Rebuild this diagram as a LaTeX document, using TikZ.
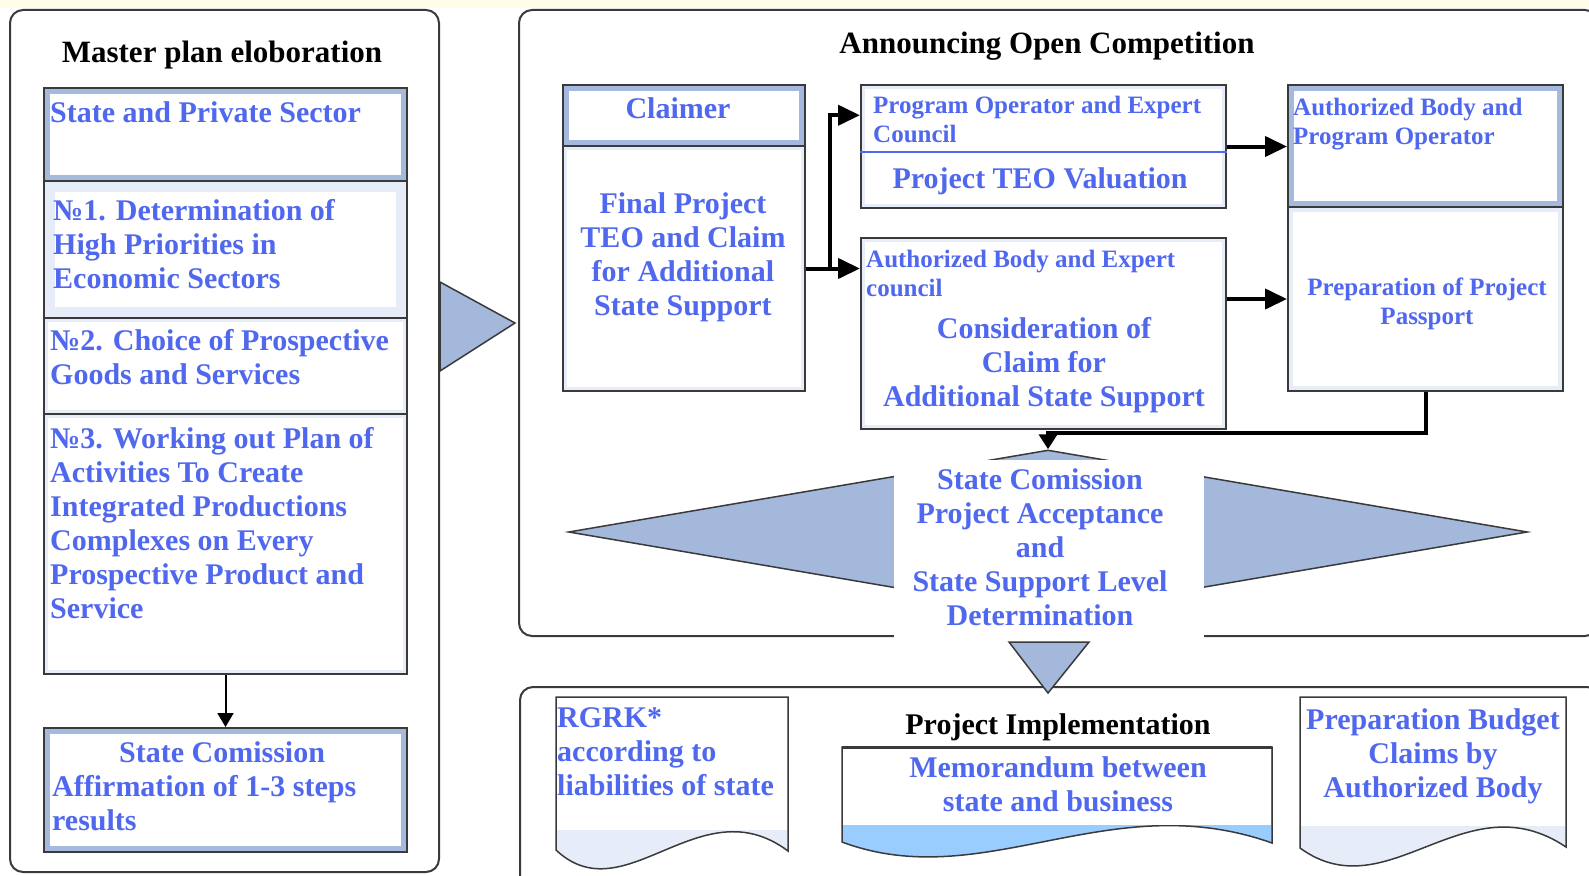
\documentclass[tikz,border=0pt]{standalone}
\usepackage{fontspec}
\setmainfont{Liberation Serif}
\usetikzlibrary{shapes.geometric,arrows.meta,calc}
\definecolor{boxline}{RGB}{58,58,58}
\definecolor{frameblue}{RGB}{165,185,222}
\definecolor{paleband}{RGB}{231,237,248}
\definecolor{triblue}{RGB}{164,184,220}
\definecolor{textblue}{RGB}{80,104,238}
\definecolor{memoblue}{RGB}{153,204,255}
\definecolor{topyellow}{RGB}{255,253,232}

\begin{document}
\begin{tikzpicture}[x=1pt,y=-1pt,
   panel/.style={draw=boxline,line width=2pt,rounded corners=13pt},
   block/.style 2 args={draw=boxline,line width=2pt,fill=#1,anchor=north west,inner sep=0pt,
     path picture={\fill[white] ([shift={(#2,-#2)}]path picture bounding box.north west)
       rectangle ([shift={(-#2,#2)}]path picture bounding box.south east);}},
   txt/.style={text=textblue,font=\fontsize{30}{34}\selectfont\bfseries,inner sep=0pt},
   smalltxt/.style={text=textblue,font=\fontsize{25}{29}\selectfont\bfseries,inner sep=0pt},
   heading/.style={text=black,font=\fontsize{31}{35}\selectfont\bfseries,inner sep=0pt},
   flow/.style={line width=4pt,-{Triangle[length=22pt,width=20pt]}},
   joinflow/.style={line width=4pt,-{Triangle[length=15pt,width=18pt]}},
   thinflow/.style={line width=2pt,-{Triangle[length=14pt,width=16pt]}},
   bigarrow/.style={fill=triblue,draw=boxline,line width=1.5pt,line join=miter},
   docline/.style={draw=boxline,line width=1.5pt}]
   \useasboundingbox (0,0) rectangle (1589,875);
   \fill[white] (0,0) rectangle (1589,875);
   \fill[topyellow] (0,0) rectangle (1589,8);
   \draw[panel] (10,10) rectangle (439,872);
   \draw[panel] (519,10) rectangle (1598,636);
   \draw[panel] (520,687) rectangle (1600,900);

   \node[heading,anchor=north] (mastertitle) at (222,41) {Master plan eloboration};
   \node[block={frameblue}{6pt},minimum width=363pt,minimum height=93pt] (stakeholders) at (43,87) {};
   \node[block={paleband}{11pt},minimum width=363pt,minimum height=137pt] (step1) at (43,180) {};
   \node[block={paleband}{4pt},minimum width=363pt,minimum height=96pt] (step2) at (43,317) {};
   \node[block={paleband}{4pt},minimum width=363pt,minimum height=260pt] (step3) at (43,413) {};
   \node[block={frameblue}{6pt},minimum width=363pt,minimum height=124pt] (affirm) at (43,727) {};
   \node[txt,anchor=north west] (stakeholderstext) at (50,101) {State and Private Sector};
   \node[txt,anchor=north west,align=left] (step1text) at (53,199) {№1. Determination of\\High Priorities in\\Economic Sectors};
   \node[txt,anchor=north west,align=left] (step2text) at (50,329) {№2. Choice of Prospective\\Goods and Services};
   \node[txt,anchor=north west,align=left] (step3text) at (50,427)
      {№3. Working out Plan of\\Activities To Create\\Integrated Productions\\Complexes on Every\\Prospective Product and\\Service};
   \node[txt,anchor=north west,align=left] (affirmtext) at (52,741) {\hspace*{67pt}State Comission\\Affirmation of 1-3 steps\\results};
   \draw[thinflow] (step3.south) -- (affirm.north);
   \draw[bigarrow] (440,282) -- (440,371) -- (515,323) -- cycle;

   \node[heading,anchor=north] (competitiontitle) at (1047,32) {Announcing Open Competition};
   \node[block={frameblue}{6pt},minimum width=242pt,minimum height=61pt] (claimer) at (562,84) {};
   \node[txt,anchor=north] (claimertext) at (678,97) {Claimer};
   \node[block={paleband}{4pt},minimum width=242pt,minimum height=245pt] (claimbody) at (562,145) {};
   \node[txt,anchor=north,align=center] (claimtext) at (683,192) {Final Project\\TEO and Claim\\for Additional\\State Support};
   \node[block={paleband}{4pt},minimum width=365pt,minimum height=123pt] (teobox) at (860,84) {};
   \draw[textblue,line width=1.2pt] (teobox.west |- 0,152) -- (teobox.east |- 0,152);
   \node[smalltxt,anchor=north west,align=left] (teohead) at (873,96) {Program Operator and Expert\\Council};
   \node[txt,anchor=north] (teotext) at (1040,167) {Project TEO Valuation};
   \node[block={paleband}{4pt},minimum width=365pt,minimum height=191pt] (reviewbox) at (860,237) {};
   \node[smalltxt,anchor=north west,align=left] (reviewhead) at (866,250) {Authorized Body and Expert\\council};
   \node[txt,anchor=north,align=center] (reviewtext) at (1044,317) {Consideration of\\Claim for\\Additional State Support};
   \node[block={frameblue}{6pt},minimum width=275pt,minimum height=122pt] (passporthead) at (1287,84) {};
   \node[block={paleband}{5pt},minimum width=275pt,minimum height=184pt] (passportbody) at (1287,206) {};
   \node[smalltxt,anchor=north west,align=left] (passportheadtext) at (1293,98) {Authorized Body and\\Program Operator};
   \node[smalltxt,anchor=north,align=center] (passporttext) at (1427,278) {Preparation of Project\\Passport};

   \coordinate (fork) at ($(claimbody.east)+(24,0)$);
   \coordinate (teoinlet) at ($(teobox.north west)!0.25!(teobox.south west)$);
   \draw[flow] (claimbody.east) -- (fork) |- (teoinlet);
   \draw[flow] (claimbody.east) -- (claimbody.east -| reviewbox.west);
   \draw[flow] (teobox.east) -- (teobox.east -| passporthead.west);
   \draw[flow] (reviewbox.east |- passportbody.west) -- (passportbody.west);

   \node[diamond,fill=triblue,draw=boxline,line width=1.5pt,minimum width=959pt,minimum height=164pt,inner sep=0pt] (decision) at (1048,532) {};
   \coordinate (joint) at ($(decision.north)+(0,-16)$);
   \draw[joinflow] (passportbody.south) |- (joint) -- (decision.north);
   \node[fill=white,minimum width=310pt,minimum height=182pt,inner sep=0pt] (decisionbg) at (1049,551) {};
   \node[txt,align=center] (decisiontext) at (1040,547)
      {State Comission\\Project Acceptance\\and\\State Support Level\\Determination};
   \draw[bigarrow] (1009,642) -- (1089,642) -- (1048,693) -- cycle;

   \draw[docline,fill=paleband] (556,697) -- (788,697) -- (788,851) .. controls (700,785) and (625,915) .. (556,850) -- cycle;
   \fill[white] (557,698) rectangle (787,830);
   \node[txt,anchor=north west,align=left] (rgrktext) at (557,707) {RGRK*\\according to\\liabilities of state};
   \node[heading,anchor=north,font=\fontsize{30}{34}\selectfont\bfseries] (implementationtitle) at (1058,713) {Project Implementation};
   \draw[docline,fill=memoblue] (842,747) -- (1272,747) -- (1272,843) .. controls (1109,785) and (984,895) .. (842,842) -- cycle;
   \fill[white] (843,748.5) rectangle (1271,825);
   \draw[boxline,line width=3pt] (842,747) -- (1272,747);
   \node[txt,anchor=north,align=center] (memotext) at (1058,756) {Memorandum between\\state and business};
   \draw[docline,fill=paleband] (1300,697) -- (1566,697) -- (1566,847) .. controls (1465,779) and (1388,912) .. (1300,848) -- cycle;
   \fill[white] (1301,698) rectangle (1565,826);
   \node[txt,anchor=north,align=center] (budgettext) at (1433,708) {Preparation Budget\\Claims by\\Authorized Body};
\end{tikzpicture}
\end{document}
